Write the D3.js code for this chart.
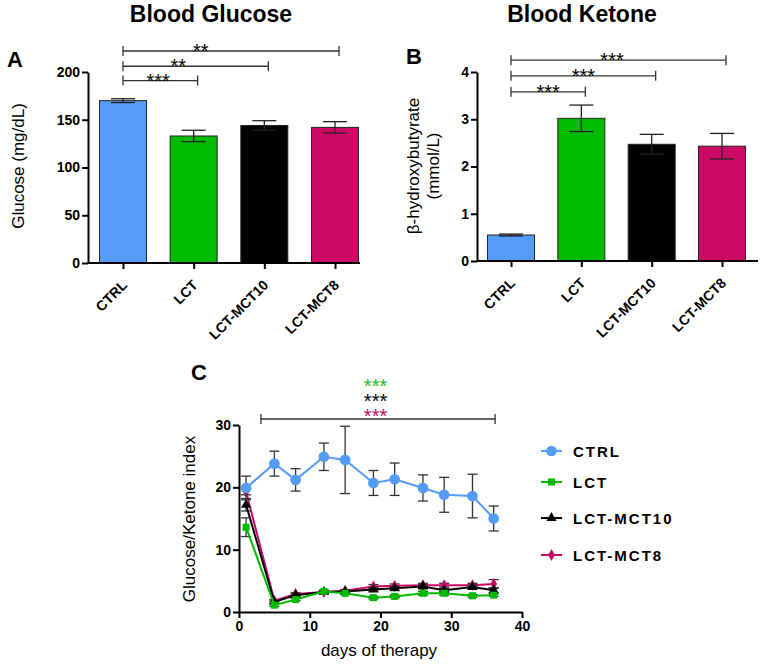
<!DOCTYPE html>
<html>
<head>
<meta charset="utf-8">
<script src="https://cdn.jsdelivr.net/npm/d3@7"></script>
<style>
  body { margin: 0; background: #fff; }
  svg text { font-family: "Liberation Sans", Arial, sans-serif; }
</style>
</head>
<body>
<div id="chart"></div>
<script>
// group names and colours
const groups = ["CTRL", "LCT", "LCT-MCT10", "LCT-MCT8"];
const groupColors = ["#559cf6", "#00bb00", "#000000", "#cc0a66"];

// panel A - blood glucose (mg/dL)
const glucoseMean = [170, 133, 144, 142];
const glucoseErr = [2, 6, 5, 6];
const glucoseTicks = [0, 50, 100, 150, 200];
const glucoseSig = [
    { to: "LCT", level: 191, label: "***" },
    { to: "LCT-MCT10", level: 206, label: "**" },
    { to: "LCT-MCT8", level: 222, label: "**" }
];

// panel B - beta-hydroxybutyrate (mmol/L)
const ketoneMean = [0.55, 3.02, 2.47, 2.43];
const ketoneErr = [0.02, 0.28, 0.21, 0.27];
const ketoneTicks = [0, 1, 2, 3, 4];
const ketoneSig = [
    { to: "LCT", level: 3.58, label: "***" },
    { to: "LCT-MCT10", level: 3.92, label: "***" },
    { to: "LCT-MCT8", level: 4.25, label: "***" }
];

// panel C - glucose/ketone index over time
const days = [1, 5, 8, 12, 15, 19, 22, 26, 29, 33, 36];
const ctrlIndex = [19.9, 23.8, 21.2, 24.9, 24.4, 20.7, 21.3, 19.9, 18.8, 18.6, 15.0];
const ctrlErr = [1.9, 2.0, 1.8, 2.2, 5.4, 2.0, 2.6, 2.1, 2.8, 3.5, 2.0];
const lctIndex = [13.6, 1.1, 2.0, 3.3, 3.0, 2.3, 2.5, 3.0, 3.0, 2.6, 2.7];
const lctErr = [1.5, 0.2, 0.2, 0.2, 0.2, 0.2, 0.2, 0.3, 0.3, 0.2, 0.2];
const mct10Index = [17.2, 1.6, 2.7, 3.2, 3.3, 3.6, 3.8, 4.1, 3.5, 4.0, 3.5];
const mct10Err = [1.0, 0.2, 0.2, 0.2, 0.2, 0.3, 0.3, 0.3, 0.3, 0.3, 0.4];
const mct8Index = [19.3, 1.8, 2.9, 3.2, 3.4, 4.1, 4.2, 4.3, 4.3, 4.3, 4.5];
const mct8Err = [0.5, 0.2, 0.2, 0.2, 0.2, 0.3, 0.3, 0.3, 0.3, 0.3, 0.7];
const dayTicks = [0, 10, 20, 30, 40];
const indexTicks = [0, 10, 20, 30];
const sigDays = [3.1, 36.2];
const sigLabelsC = ["***", "***", "***"];
const sigColorsC = ["#22bb22", "#000000", "#cc0a66"];

const svg = d3.select("#chart").append("svg")
    .attr("width", 762)
    .attr("height", 667);

// bar panel with error bars and significance brackets
function drawBarPanel(opt) {
    const g = svg.append("g");

    const x = d3.scalePoint()
        .domain(groups)
        .range(opt.xRange);

    const y = d3.scaleLinear()
        .domain([0, opt.yMax])
        .range(opt.yRange);

    const barW = 47;

    // bars
    g.selectAll(".bar")
        .data(groups)
        .enter()
        .append("rect")
        .attr("class", "bar")
        .attr("x", d => x(d) - barW / 2)
        .attr("width", barW)
        .attr("y", (d, i) => y(opt.mean[i]))
        .attr("height", (d, i) => y(0) - y(opt.mean[i]))
        .attr("fill", (d, i) => groupColors[i])
        .attr("stroke", "#222")
        .attr("stroke-width", 1);

    // error bars
    groups.forEach((d, i) => {
        const cx = x(d);
        const top = y(opt.mean[i] + opt.err[i]);
        const bot = y(opt.mean[i] - opt.err[i]);
        g.append("line")
            .attr("x1", cx).attr("x2", cx)
            .attr("y1", top).attr("y2", bot)
            .attr("stroke", "#222").attr("stroke-width", 1.3);
        [top, bot].forEach(yy => {
            g.append("line")
                .attr("x1", cx - 12).attr("x2", cx + 12)
                .attr("y1", yy).attr("y2", yy)
                .attr("stroke", "#222").attr("stroke-width", 1.3);
        });
    });

    // y axis
    const yAxis = g.append("g")
        .attr("transform", `translate(${opt.axisX},0)`)
        .call(d3.axisLeft(y).tickValues(opt.ticks).tickFormat(d3.format("d"))
            .tickSize(6).tickSizeOuter(0).tickPadding(2));
    yAxis.select(".domain").attr("stroke-width", 2);
    yAxis.selectAll(".tick line").attr("stroke-width", 2);
    yAxis.selectAll(".tick text")
        .style("font-size", "14px").style("font-weight", "bold").attr("fill", "#000");

    // x axis
    const xAxis = g.append("g")
        .attr("transform", `translate(0,${y(0)})`)
        .call(d3.axisBottom(x).tickSize(6).tickSizeOuter(0));
    xAxis.select(".domain").remove();
    xAxis.selectAll(".tick line").attr("stroke-width", 2);
    xAxis.selectAll(".tick text").remove();
    g.append("line")
        .attr("x1", opt.axisX).attr("x2", opt.axisEnd)
        .attr("y1", y(0)).attr("y2", y(0))
        .attr("stroke", "#000").attr("stroke-width", 2);

    g.selectAll(".xlabel")
        .data(groups)
        .enter()
        .append("text")
        .attr("class", "xlabel")
        .attr("transform", d => `translate(${x(d) + 5},${y(0) + 23}) rotate(-45)`)
        .style("text-anchor", "end")
        .style("font-size", "14px")
        .style("font-weight", "bold")
        .text(d => d);

    // significance brackets
    opt.sig.forEach((s, k) => {
        const x1 = x(groups[0]);
        const x2 = x(s.to) + 4;
        const yy = y(s.level);
        g.append("line")
            .attr("x1", x1).attr("x2", x2).attr("y1", yy).attr("y2", yy)
            .attr("stroke", "#333").attr("stroke-width", 1.3);
        [x1, x2].forEach(xx => {
            g.append("line")
                .attr("x1", xx).attr("x2", xx).attr("y1", yy - 5).attr("y2", yy + 5)
                .attr("stroke", "#333").attr("stroke-width", 1.3);
        });
        g.append("text")
            .attr("x", x1 + (x2 - x1) * opt.starPos[k])
            .attr("y", yy + 7)
            .style("text-anchor", "middle")
            .style("font-size", "20px")
            .text(s.label);
    });

    // title, panel letter, y label
    g.append("text")
        .attr("x", opt.titleX).attr("y", 22)
        .style("text-anchor", "middle")
        .style("font-size", "23px").style("font-weight", "bold")
        .text(opt.title);

    g.append("text")
        .attr("x", opt.letterX).attr("y", opt.letterY)
        .style("font-size", "22px").style("font-weight", "bold")
        .text(opt.letter);

    const yl = g.append("text")
        .attr("transform", `translate(${opt.labelX},${opt.labelY}) rotate(-90)`)
        .style("text-anchor", "middle")
        .style("font-size", "17px");
    opt.yLabel.forEach((line, i) => {
        yl.append("tspan").attr("x", 0).attr("dy", i === 0 ? 0 : "1.15em").text(line);
    });
}

drawBarPanel({
    mean: glucoseMean, err: glucoseErr, ticks: glucoseTicks, sig: glucoseSig,
    starPos: [0.47, 0.38, 0.36],
    yMax: 200, yRange: [263, 72], xRange: [123, 335], axisX: 88, axisEnd: 360,
    title: "Blood Glucose", titleX: 211, letter: "A", letterX: 7, letterY: 67,
    yLabel: ["Glucose (mg/dL)"], labelX: 24, labelY: 166
});

drawBarPanel({
    mean: ketoneMean, err: ketoneErr, ticks: ketoneTicks, sig: ketoneSig,
    starPos: [0.5, 0.5, 0.47],
    yMax: 4, yRange: [261, 72], xRange: [511, 722], axisX: 477, axisEnd: 758,
    title: "Blood Ketone", titleX: 582, letter: "B", letterX: 406, letterY: 64,
    yLabel: ["\u03b2-hydroxybutyrate", "(mmol/L)"], labelX: 419, labelY: 166
});

// panel C - time course
const xC = d3.scaleLinear().domain([0, 40]).range([239, 522]);
const yC = d3.scaleLinear().domain([0, 30]).range([612, 425]);

const gC = svg.append("g");

const seriesC = [
    { name: "CTRL", values: ctrlIndex, err: ctrlErr, color: groupColors[0], symbol: d3.symbolCircle, size: 90 },
    { name: "LCT", values: lctIndex, err: lctErr, color: groupColors[1], symbol: d3.symbolSquare, size: 50 },
    { name: "LCT-MCT10", values: mct10Index, err: mct10Err, color: groupColors[2], symbol: d3.symbolTriangle, size: 45 },
    { name: "LCT-MCT8", values: mct8Index, err: mct8Err, color: groupColors[3], symbol: d3.symbolDiamond, size: 40 }
];

const lineC = d3.line()
    .x(d => xC(d.day))
    .y(d => yC(d.value));

// draw later series first so CTRL sits on top
seriesC.slice().reverse().forEach(s => {
    const pts = days.map((d, i) => ({ day: d, value: s.values[i], err: s.err[i] }));

    pts.forEach(p => {
        const top = yC(p.value + p.err);
        const bot = yC(p.value - p.err);
        gC.append("line")
            .attr("x1", xC(p.day)).attr("x2", xC(p.day))
            .attr("y1", top).attr("y2", bot)
            .attr("stroke", "#333").attr("stroke-width", 1.3);
        [top, bot].forEach(yy => {
            gC.append("line")
                .attr("x1", xC(p.day) - 5).attr("x2", xC(p.day) + 5)
                .attr("y1", yy).attr("y2", yy)
                .attr("stroke", "#333").attr("stroke-width", 1.3);
        });
    });

    gC.append("path")
        .datum(pts)
        .attr("fill", "none")
        .attr("stroke", s.color)
        .attr("stroke-width", 2)
        .attr("d", lineC);

    gC.selectAll(null)
        .data(pts)
        .enter()
        .append("path")
        .attr("transform", d => `translate(${xC(d.day)},${yC(d.value)})`)
        .attr("d", d3.symbol().type(s.symbol).size(s.size))
        .attr("fill", s.color);
});

// axes
const yAxisC = gC.append("g")
    .attr("transform", "translate(239,0)")
    .call(d3.axisLeft(yC).tickValues(indexTicks).tickSize(6).tickSizeOuter(0).tickPadding(2));
yAxisC.select(".domain").attr("stroke-width", 2);
yAxisC.selectAll(".tick line").attr("stroke-width", 2);
yAxisC.selectAll(".tick text").style("font-size", "14px").style("font-weight", "bold").attr("fill", "#000");

const xAxisC = gC.append("g")
    .attr("transform", "translate(0,612)")
    .call(d3.axisBottom(xC).tickValues(dayTicks).tickSize(6).tickSizeOuter(0).tickPadding(3));
xAxisC.select(".domain").attr("stroke-width", 2);
xAxisC.selectAll(".tick line").attr("stroke-width", 2);
xAxisC.selectAll(".tick text").style("font-size", "14px").style("font-weight", "bold").attr("fill", "#000");

// significance bracket over the time course
const bY = 419;
gC.append("line")
    .attr("x1", xC(sigDays[0])).attr("x2", xC(sigDays[1]))
    .attr("y1", bY).attr("y2", bY)
    .attr("stroke", "#333").attr("stroke-width", 1.3);
sigDays.forEach(d => {
    gC.append("line")
        .attr("x1", xC(d)).attr("x2", xC(d)).attr("y1", bY - 5).attr("y2", bY + 5)
        .attr("stroke", "#333").attr("stroke-width", 1.3);
});
const starsC = gC.append("text")
    .style("text-anchor", "middle")
    .style("font-size", "20px");
sigLabelsC.forEach((lab, i) => {
    starsC.append("tspan")
        .attr("x", xC(19.3))
        .attr("y", 393 + i * 15)
        .attr("fill", sigColorsC[i])
        .text(lab);
});

gC.append("text")
    .attr("x", 191).attr("y", 380)
    .style("font-size", "22px").style("font-weight", "bold")
    .text("C");

gC.append("text")
    .attr("transform", "translate(195,519) rotate(-90)")
    .style("text-anchor", "middle")
    .style("font-size", "17px")
    .text("Glucose/Ketone index");

gC.append("text")
    .attr("x", 379).attr("y", 656)
    .style("text-anchor", "middle")
    .style("font-size", "17px")
    .text("days of therapy");

// legend
const legendY = [451, 482, 518, 555];
seriesC.forEach((s, i) => {
    const lg = gC.append("g").attr("transform", `translate(0,${legendY[i]})`);
    lg.append("line")
        .attr("x1", 541).attr("x2", 562).attr("y1", 0).attr("y2", 0)
        .attr("stroke", s.color).attr("stroke-width", 2);
    lg.append("path")
        .attr("transform", "translate(551.5,0)")
        .attr("d", d3.symbol().type(s.symbol).size(s.size))
        .attr("fill", s.color);
    lg.append("text")
        .attr("x", 573).attr("y", 6)
        .style("font-size", "15px")
        .style("font-weight", "bold")
        .style("letter-spacing", "2px")
        .text(s.name);
});
</script>
</body>
</html>
